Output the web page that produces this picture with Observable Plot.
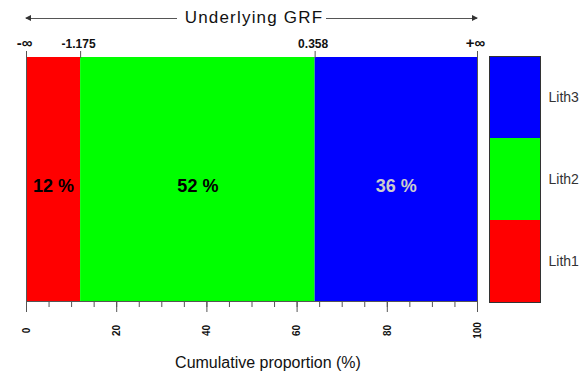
<!DOCTYPE html>
<html>
<head>
<meta charset="utf-8">
<script src="https://cdn.jsdelivr.net/npm/d3@7"></script>
<script src="https://cdn.jsdelivr.net/npm/@observablehq/plot@0.6"></script>
<style>
  body { margin: 0; background: #fff; }
  #wrap { position: relative; width: 579px; height: 374px; overflow: hidden; font-family: "Liberation Sans", Arial, sans-serif; background: #fff; }
  #wrap svg { position: absolute; top: 0; left: 0; }
  #title { position: absolute; left: 26px; width: 451px; top: 6px; height: 24px; display: flex; align-items: center; }
  #title .arr { flex: 1; height: 1px; background: #555; position: relative; }
  #title .arr.l::before { content: ""; position: absolute; left: -1px; top: -3px; border-right: 6px solid #333; border-top: 3.5px solid transparent; border-bottom: 3.5px solid transparent; }
  #title .arr.r::after { content: ""; position: absolute; right: -1px; top: -3px; border-left: 6px solid #333; border-top: 3.5px solid transparent; border-bottom: 3.5px solid transparent; }
  #title span { font-size: 17px; letter-spacing: 1.2px; color: #111; margin: 0 3px 0 8px; white-space: nowrap; }
  #xlabel { position: absolute; left: 268px; top: 355px; transform: translateX(-50%); font-size: 16px; line-height: 16px; color: #111; white-space: nowrap; }
</style>
</head>
<body>
<div id="wrap">
  <div id="title"><div class="arr l"></div><span>Underlying GRF</span><div class="arr r"></div></div>
  <div id="xlabel">Cumulative proportion (%)</div>
</div>
<script>
// ---- data ----
const liths = ["Lith1", "Lith2", "Lith3"];
const proportions = [12, 52, 36];
const lithColors = ["#ff0000", "#00ff00", "#0000ff"];
const pctTextColors = ["#000000", "#000000", "#cccccc"];
const thresholdLabels = ["-\u221e", "-1.175", "0.358", "+\u221e"];
const bottomTicks = [0, 20, 40, 60, 80, 100];
const minorStep = 5;

// ---- derived ----
const cum = [0];
proportions.forEach(p => cum.push(cum[cum.length - 1] + p));
const rows = liths.map((l, i) => ({
  lith: l, p: proportions[i], x1: cum[i], x2: cum[i + 1],
  mid: (cum[i] + cum[i + 1]) / 2, color: lithColors[i], textColor: pctTextColors[i]
}));
const minorTicks = d3.range(0, 100 + minorStep / 2, minorStep);
const topLabels = cum.map((c, i) => ({ x: c, label: thresholdLabels[i], inf: thresholdLabels[i].includes("\u221e") }));

const main = Plot.plot({
  width: 579, height: 374,
  marginLeft: 26, marginRight: 102, marginTop: 57, marginBottom: 73,
  style: { fontFamily: "Liberation Sans, Arial, sans-serif", background: "transparent" },
  x: { domain: [0, 100] },
  y: { domain: [0, 1], axis: null },
  color: { type: "identity" },
  marks: [
    Plot.rect(rows, { x1: "x1", x2: "x2", y1: 0, y2: 1, fill: "color" }),
    Plot.text(rows, { x: "mid", y: 0.5, dy: 7, text: d => `${d.p} %`, fill: "textColor", fontSize: 18, fontWeight: "bold" }),
    Plot.ruleX([0, 100], { stroke: "#555" }),
    Plot.ruleY([0], { stroke: "#555" }),
    Plot.axisX({ anchor: "bottom", ticks: minorTicks, tickSize: 6, tickFormat: () => "", stroke: "#555" }),
    Plot.axisX({ anchor: "bottom", ticks: bottomTicks, tickSize: 11, tickFormat: () => "", stroke: "#555" }),
    Plot.text(bottomTicks, { x: d => d, frameAnchor: "bottom", dy: 29, rotate: -90, text: d => String(d), fontSize: 10, fontWeight: "bold", textAnchor: "middle", lineAnchor: "middle", fill: "#111" }),
    Plot.axisX({ anchor: "top", ticks: cum, tickSize: 7, tickFormat: () => "", stroke: "#555" }),
    Plot.text(topLabels, { x: "x", frameAnchor: "top", dy: -10, lineAnchor: "bottom", text: "label", fontSize: d => d.inf ? 15 : 12, fontWeight: "bold", fill: "#111", dx: -2 })
  ]
});

const legend = Plot.plot({
  width: 579, height: 374,
  marginLeft: 489, marginRight: 39, marginTop: 56, marginBottom: 72,
  style: { fontFamily: "Liberation Sans, Arial, sans-serif", background: "transparent" },
  x: { axis: null },
  y: { type: "band", domain: [...liths].reverse(), padding: 0, axis: null },
  color: { type: "identity" },
  marks: [
    Plot.cell(rows, { y: "lith", fill: "color" }),
    Plot.frame({ stroke: "#333" }),
    Plot.text(rows, { y: "lith", text: "lith", frameAnchor: "right", dx: 8, textAnchor: "start", fontSize: 14, fill: "#333" })
  ]
});

const wrap = document.getElementById("wrap");
wrap.insertBefore(legend, wrap.firstChild);
wrap.insertBefore(main, wrap.firstChild);
</script>
</body>
</html>
